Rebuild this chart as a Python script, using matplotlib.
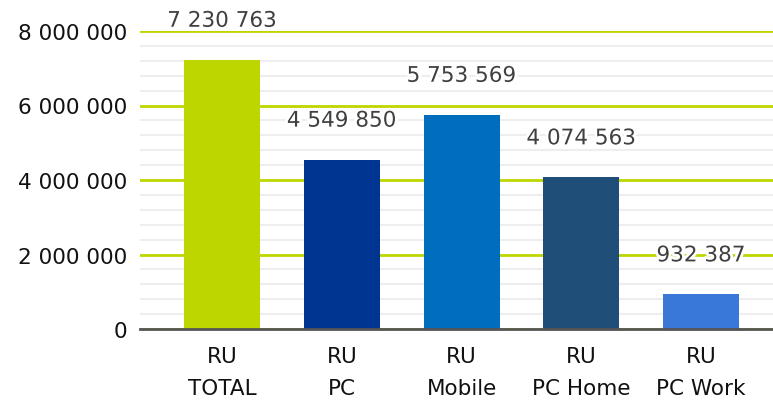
import matplotlib
matplotlib.use("Agg")
import matplotlib.pyplot as plt
import matplotlib.patheffects as pe
from matplotlib.ticker import MultipleLocator, FuncFormatter

categories = ["RU\nTOTAL", "RU\nPC", "RU\nMobile", "RU\nPC Home", "RU\nPC Work"]
values = [7230763, 4549850, 5753569, 4074563, 932387]
colors = ["#bed600", "#003591", "#006ebd", "#1f4e79", "#3a78d8"]
yticks = [0, 2000000, 4000000, 6000000, 8000000]

def fmt(v):
    return f"{int(v):,}".replace(",", " ")

fig = plt.figure(figsize=(7.73, 4.02), dpi=100)
ax = fig.add_axes([140/773, 72/402, 1 - 140/773, (330-32)/402])

x = list(range(len(values)))
ax.bar(x, values, width=0.635, color=colors, zorder=3)

ax.set_ylim(0, 8000000)
ax.set_xlim(-0.685, 4.601)
ax.set_yticks(yticks)
ax.yaxis.set_major_formatter(FuncFormatter(lambda v, p: fmt(v)))
ax.yaxis.set_minor_locator(MultipleLocator(400000))
ax.grid(axis="y", which="major", color="#bed600", linewidth=2, zorder=1)
ax.grid(axis="y", which="minor", color="#eeeeee", linewidth=1.5, zorder=0)
ax.set_axisbelow(True)
for s in ["top", "right", "left"]:
    ax.spines[s].set_visible(False)
ax.spines["bottom"].set_color("#555555")
ax.spines["bottom"].set_linewidth(2)
ax.spines["bottom"].set_zorder(4)

ax.tick_params(axis="y", which="both", length=0, pad=9, labelsize=15.5, labelcolor="#111111")
ax.tick_params(axis="x", length=0, pad=12, labelsize=15.5, labelcolor="#111111")
ax.set_xticks(x)
ax.set_xticklabels(categories, linespacing=1.75)

for xi, v in zip(x, values):
    ax.annotate(fmt(v), (xi, v), xytext=(0, 28), textcoords="offset points",
                ha="center", va="center", fontsize=15.5, color="#404040", zorder=5,
                path_effects=[pe.withStroke(linewidth=4, foreground="white")],
                annotation_clip=False)

fig.savefig("out.png", dpi=100)
